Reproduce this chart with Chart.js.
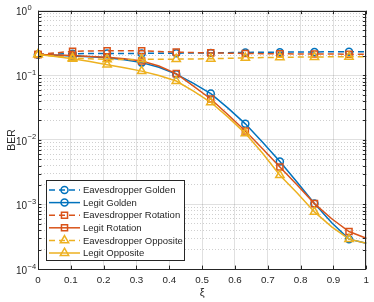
<!DOCTYPE html>
<html>
<head>
<meta charset="utf-8">
<script src="https://cdn.jsdelivr.net/npm/chart.js@4.4.0/dist/chart.umd.min.js"></script>
<style>
  html, body { margin: 0; padding: 0; background: #fff; }
</style>
</head>
<body>
<canvas id="berChart" width="374" height="302"></canvas>
<script>
// sample positions of xi (20 points, markers every other point)
const xi = [0, 0.0526, 0.1053, 0.1579, 0.2105, 0.2632, 0.3158, 0.3684, 0.4211, 0.4737,
            0.5263, 0.5789, 0.6316, 0.6842, 0.7368, 0.7895, 0.8421, 0.8947, 0.9474, 1];

const eveGolden   = [0.21, 0.214, 0.216, 0.217, 0.218, 0.218, 0.218, 0.219, 0.22, 0.221,
                     0.222, 0.224, 0.226, 0.227, 0.228, 0.229, 0.23, 0.231, 0.232, 0.232];
const legitGolden = [0.21, 0.205, 0.198, 0.193, 0.186, 0.174, 0.157, 0.133, 0.104, 0.075,
                     0.052, 0.031, 0.0177, 0.0092, 0.00463, 0.0022, 0.00103, 0.00052, 0.00029, 0.00025];
const eveRotation   = [0.21, 0.222, 0.235, 0.238, 0.24, 0.24, 0.24, 0.234, 0.228, 0.225,
                       0.222, 0.22, 0.218, 0.216, 0.215, 0.214, 0.213, 0.213, 0.212, 0.212];
const legitRotation = [0.21, 0.206, 0.202, 0.196, 0.19, 0.18, 0.166, 0.139, 0.106, 0.068,
                       0.0429, 0.0245, 0.0137, 0.0073, 0.0038, 0.002, 0.00103, 0.0006, 0.00038, 0.0003];
const eveOpposite   = [0.21, 0.198, 0.186, 0.18, 0.176, 0.176, 0.176, 0.177, 0.178, 0.179,
                       0.18, 0.183, 0.186, 0.188, 0.19, 0.191, 0.192, 0.193, 0.193, 0.194];
const legitOpposite = [0.21, 0.195, 0.18, 0.163, 0.146, 0.131, 0.116, 0.099, 0.0816, 0.057,
                       0.0382, 0.0225, 0.0126, 0.0062, 0.00284, 0.0015, 0.000766, 0.00045, 0.00029, 0.00025];

const xTickValues = [0, 0.1, 0.2, 0.3, 0.4, 0.5, 0.6, 0.7, 0.8, 0.9, 1];
const xTickLabels = ['0', '0.1', '0.2', '0.3', '0.4', '0.5', '0.6', '0.7', '0.8', '0.9', '1'];
const yDecades = [1e-4, 1e-3, 1e-2, 1e-1, 1];
const yExponents = ['\u22124', '\u22123', '\u22122', '\u22121', '0'];  // drawn as 10^e

const BLUE = '#0072BD', RED = '#D95319', YELLOW = '#EDB120';
const AXIS = '#262626';
const FONT = '"Liberation Sans", Arial, sans-serif';

// all y grid positions: decades plus 2..9 minors
const yTicks = [];
yDecades.forEach((d, i) => {
    yTicks.push({ value: d, major: true, exp: yExponents[i] });
    if (i < yDecades.length - 1) {
        for (let m = 2; m <= 9; m++) yTicks.push({ value: d * m, major: false, exp: null });
    }
});

function series(label, data, color, style, radius, dashed) {
    return {
        label: label,
        data: data.map((v, i) => ({ x: xi[i], y: v })),
        borderColor: color,
        borderWidth: 1.5,
        borderDash: dashed ? [6, 4] : [],
        backgroundColor: 'rgba(0,0,0,0)',
        pointStyle: style,
        pointBorderColor: color,
        pointBackgroundColor: 'rgba(0,0,0,0)',
        pointBorderWidth: 1.5,
        pointRadius: ctx => (ctx.dataIndex % 2 === 0 ? radius : 0),
        markerSize: radius,
        tension: 0,
        clip: false
    };
}

const datasets = [
    series('Eavesdropper Golden', eveGolden, BLUE, 'circle', 3.5, true),
    series('Legit Golden', legitGolden, BLUE, 'circle', 3.5, false),
    series('Eavesdropper Rotation', eveRotation, RED, 'rect', 4.3, true),
    series('Legit Rotation', legitRotation, RED, 'rect', 4.3, false),
    series('Eavesdropper Opposite', eveOpposite, YELLOW, 'triangle', 4.8, true),
    series('Legit Opposite', legitOpposite, YELLOW, 'triangle', 4.8, false)
];
// later series on top, like the original plot
datasets.forEach((d, i) => { d.order = datasets.length - i; });

const frameAndLegend = {
    id: 'frameAndLegend',
    afterDraw(chart) {
        const ctx = chart.ctx;
        const a = chart.chartArea;
        const xs = chart.scales.x, ys = chart.scales.y;
        const tl = 3.4;
        ctx.save();
        ctx.strokeStyle = AXIS;
        ctx.lineWidth = 1;
        ctx.setLineDash([]);
        ctx.beginPath();
        xTickValues.forEach(v => {
            const px = Math.round(xs.getPixelForValue(v)) + 0.5;
            ctx.moveTo(px, a.bottom); ctx.lineTo(px, a.bottom - tl);
            ctx.moveTo(px, a.top); ctx.lineTo(px, a.top + tl);
        });
        yTicks.forEach(t => {
            const py = Math.round(ys.getPixelForValue(t.value)) + 0.5;
            ctx.moveTo(a.left, py); ctx.lineTo(a.left + tl, py);
            ctx.moveTo(a.right, py); ctx.lineTo(a.right - tl, py);
        });
        ctx.stroke();
        ctx.strokeRect(Math.round(a.left) + 0.5, Math.round(a.top) + 0.5,
                       Math.round(a.right - a.left) - 1, Math.round(a.bottom - a.top));

        // y decade labels as 10 with raised exponent
        ctx.fillStyle = AXIS;
        ctx.textBaseline = 'middle';
        yTicks.filter(t => t.major).forEach(t => {
            const py = ys.getPixelForValue(t.value);
            ctx.font = '10px ' + FONT;
            ctx.textAlign = 'right';
            ctx.fillText('10', 27, py + 2);
            ctx.font = '7.5px ' + FONT;
            ctx.textAlign = 'left';
            ctx.fillText(t.exp, 27.5, py - 2.5);
        });

        // legend box in the lower left corner
        const bx = 46.5, by = 180.5, bw = 138, bh = 80, rowH = 12.6;
        ctx.fillStyle = '#fff';
        ctx.fillRect(bx, by, bw, bh);
        ctx.strokeStyle = AXIS;
        ctx.lineWidth = 1;
        ctx.strokeRect(bx, by, bw, bh);
        ctx.font = '9.5px ' + FONT;
        ctx.textBaseline = 'middle';
        ctx.textAlign = 'left';
        datasets.forEach((d, i) => {
            const y = 190 + i * rowH;
            ctx.strokeStyle = d.borderColor;
            ctx.lineWidth = 1.5;
            ctx.setLineDash(d.borderDash);
            ctx.beginPath();
            ctx.moveTo(49, y); ctx.lineTo(80, y);
            ctx.stroke();
            ctx.setLineDash([]);
            ctx.fillStyle = 'rgba(0,0,0,0)';
            Chart.helpers.drawPoint(ctx, { pointStyle: d.pointStyle, radius: d.markerSize, rotation: 0, borderWidth: 1.5 }, 64.5, y);
            ctx.fillStyle = AXIS;
            ctx.fillText(d.label, 83, y + 0.5);
        });
        ctx.restore();
    }
};

new Chart(document.getElementById('berChart').getContext('2d'), {
    type: 'line',
    data: { datasets: datasets },
    options: {
        responsive: false,
        animation: false,
        events: [],
        layout: { padding: { left: 0, right: 2, top: 6, bottom: 0 } },
        plugins: {
            legend: { display: false },
            tooltip: { enabled: false }
        },
        scales: {
            x: {
                type: 'linear',
                min: 0,
                max: 1,
                afterBuildTicks: s => { s.ticks = xTickValues.map(v => ({ value: v })); },
                afterFit: s => { s.height = 33; },
                ticks: {
                    autoSkip: false,
                    maxRotation: 0,
                    padding: 5,
                    color: AXIS,
                    font: { family: FONT, size: 9.8 },
                    callback: (v, i) => xTickLabels[i]
                },
                grid: { color: 'rgba(38,38,38,0.14)', lineWidth: 1, drawTicks: false },
                border: { display: false },
                title: {
                    display: true,
                    text: '\u03BE',
                    color: AXIS,
                    font: { family: FONT, size: 11 },
                    padding: { top: 2, bottom: 2 }
                }
            },
            y: {
                type: 'logarithmic',
                min: 1e-4,
                max: 1,
                afterBuildTicks: s => { s.ticks = yTicks.map(t => ({ value: t.value, major: t.major })); },
                afterFit: s => { s.width = 38; },
                ticks: {
                    autoSkip: false,
                    padding: 5,
                    color: AXIS,
                    font: { family: FONT, size: 9.5 },
                    callback: () => ''
                },
                grid: {
                    drawTicks: false,
                    lineWidth: 1,
                    color: ctx => (ctx.tick && ctx.tick.major ? 'rgba(38,38,38,0.14)' : 'rgba(38,38,38,0.22)')
                },
                border: {
                    display: false,
                    dash: ctx => (ctx.tick && ctx.tick.major ? [] : [1, 2])
                },
                title: {
                    display: true,
                    text: 'BER',
                    color: AXIS,
                    font: { family: FONT, size: 10.5 },
                    padding: { top: 6, bottom: 2 }
                }
            }
        }
    },
    plugins: [frameAndLegend]
});
</script>
</body>
</html>
